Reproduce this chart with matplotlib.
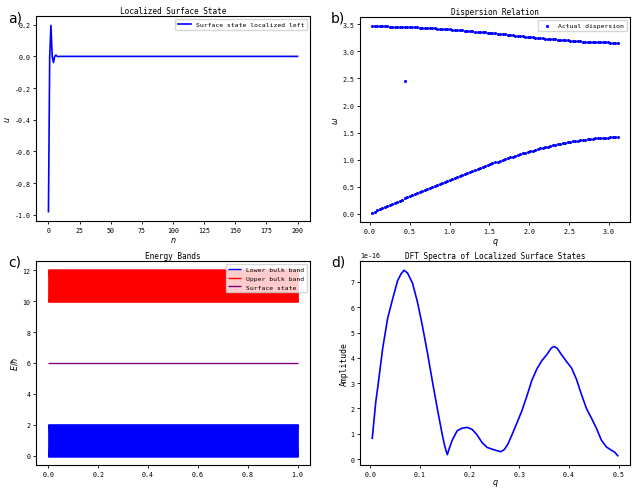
import numpy as np
import matplotlib
matplotlib.use('Agg')
import matplotlib.pyplot as plt

plt.rcParams['font.family'] = ['DejaVu Sans Mono', 'DejaVu Sans']
plt.rcParams['axes.unicode_minus'] = False
plt.rcParams['xtick.labelsize'] = 4.8
plt.rcParams['ytick.labelsize'] = 4.8
plt.rcParams['xtick.major.size'] = 2
plt.rcParams['ytick.major.size'] = 2
plt.rcParams['xtick.major.pad'] = 2
plt.rcParams['ytick.major.pad'] = 2
plt.rcParams['axes.linewidth'] = 0.8
plt.rcParams['axes.titlesize'] = 5.6
plt.rcParams['axes.titlepad'] = 2
plt.rcParams['axes.labelsize'] = 5.8
plt.rcParams['axes.labelpad'] = 1.5
plt.rcParams['legend.fontsize'] = 4.6

# surface state displacement along the chain (decays within a few sites)
site_n = [0, 1, 2, 3, 4, 5, 6, 7, 8, 9, 10, 200]
site_u = [-0.98, 0.0, 0.196, 0.0, -0.039, 0.0, 0.008, 0.0, -0.0016, 0.0, 0.0, 0.0]

# wavenumbers of the 99 allowed modes
q_vals = [0.031, 0.063, 0.094, 0.126, 0.157, 0.188, 0.220, 0.251, 0.283, 0.314,
          0.346, 0.377, 0.408, 0.440, 0.471, 0.503, 0.534, 0.565, 0.597, 0.628,
          0.660, 0.691, 0.723, 0.754, 0.785, 0.817, 0.848, 0.880, 0.911, 0.942,
          0.974, 1.005, 1.037, 1.068, 1.100, 1.131, 1.162, 1.194, 1.225, 1.257,
          1.288, 1.319, 1.351, 1.382, 1.414, 1.445, 1.477, 1.508, 1.539, 1.571,
          1.602, 1.634, 1.665, 1.696, 1.728, 1.759, 1.791, 1.822, 1.853, 1.885,
          1.916, 1.948, 1.979, 2.011, 2.042, 2.073, 2.105, 2.136, 2.168, 2.199,
          2.231, 2.262, 2.293, 2.325, 2.356, 2.388, 2.419, 2.450, 2.482, 2.513,
          2.545, 2.576, 2.608, 2.639, 2.670, 2.702, 2.733, 2.765, 2.796, 2.827,
          2.859, 2.890, 2.922, 2.953, 2.985, 3.016, 3.047, 3.079, 3.110]

# acoustic branch
w_lower = [0.020, 0.040, 0.061, 0.081, 0.101, 0.122, 0.142, 0.162, 0.182, 0.203,
           0.222, 0.242, 0.263, 0.283, 0.303, 0.322, 0.342, 0.362, 0.382, 0.402,
           0.421, 0.441, 0.460, 0.480, 0.499, 0.519, 0.538, 0.557, 0.576, 0.595,
           0.614, 0.633, 0.651, 0.670, 0.688, 0.707, 0.725, 0.743, 0.761, 0.779,
           0.796, 0.814, 0.831, 0.849, 0.866, 0.883, 0.900, 0.916, 0.933, 0.949,
           0.965, 0.981, 0.997, 1.013, 1.028, 1.043, 1.058, 1.073, 1.087, 1.102,
           1.116, 1.129, 1.143, 1.156, 1.169, 1.182, 1.195, 1.207, 1.219, 1.231,
           1.242, 1.253, 1.264, 1.274, 1.284, 1.294, 1.303, 1.313, 1.321, 1.330,
           1.338, 1.345, 1.353, 1.360, 1.366, 1.372, 1.378, 1.383, 1.388, 1.393,
           1.397, 1.400, 1.404, 1.406, 1.409, 1.411, 1.412, 1.413, 1.414]

# optical branch
w_upper = [3.464, 3.464, 3.464, 3.463, 3.463, 3.462, 3.461, 3.460, 3.459, 3.458,
           3.457, 3.456, 3.454, 3.453, 3.451, 3.449, 3.447, 3.445, 3.443, 3.441,
           3.438, 3.436, 3.433, 3.431, 3.428, 3.425, 3.422, 3.419, 3.416, 3.413,
           3.409, 3.406, 3.402, 3.399, 3.395, 3.391, 3.387, 3.384, 3.380, 3.375,
           3.371, 3.367, 3.363, 3.359, 3.354, 3.350, 3.345, 3.341, 3.336, 3.332,
           3.327, 3.322, 3.318, 3.313, 3.308, 3.303, 3.299, 3.294, 3.289, 3.284,
           3.280, 3.275, 3.270, 3.265, 3.261, 3.256, 3.252, 3.247, 3.243, 3.238,
           3.234, 3.230, 3.225, 3.221, 3.217, 3.213, 3.210, 3.206, 3.202, 3.199,
           3.195, 3.192, 3.189, 3.186, 3.183, 3.181, 3.178, 3.176, 3.174, 3.172,
           3.170, 3.168, 3.167, 3.166, 3.165, 3.164, 3.163, 3.163, 3.162]

# in-gap surface mode
q_surface = 0.440
w_surface = 2.449

# DFT amplitude of the surface states (units of 1e-16)
dft_q = [0.004, 0.011, 0.015, 0.025, 0.035, 0.045, 0.055, 0.062, 0.068, 0.075,
         0.085, 0.095, 0.105, 0.115, 0.125, 0.135, 0.145, 0.150, 0.155, 0.160,
         0.165, 0.175, 0.185, 0.195, 0.205, 0.215, 0.225, 0.235, 0.245, 0.255,
         0.263, 0.270, 0.277, 0.285, 0.295, 0.305, 0.315, 0.325, 0.335, 0.345,
         0.355, 0.364, 0.370, 0.376, 0.385, 0.395, 0.405, 0.415, 0.425, 0.435,
         0.445, 0.455, 0.465, 0.475, 0.485, 0.492, 0.498]
dft_amp = [0.82, 2.25, 2.83, 4.38, 5.57, 6.33, 7.05, 7.32, 7.46, 7.35,
           6.95, 6.20, 5.25, 4.20, 3.07, 1.98, 0.95, 0.50, 0.17, 0.48,
           0.75, 1.12, 1.22, 1.25, 1.17, 0.95, 0.65, 0.46, 0.39, 0.33,
           0.29, 0.38, 0.59, 0.95, 1.42, 1.90, 2.48, 3.10, 3.55, 3.88,
           4.12, 4.38, 4.45, 4.38, 4.12, 3.85, 3.60, 3.15, 2.55, 2.00,
           1.62, 1.22, 0.75, 0.48, 0.35, 0.27, 0.13]

W, H = 632, 489
fig = plt.figure(figsize=(W / 100, H / 100), dpi=100)


def px_axes(left, top, right, bottom):
    return fig.add_axes([left / W, 1 - bottom / H, (right - left) / W, (bottom - top) / H])


ax_a = px_axes(36, 17, 310, 222)
ax_b = px_axes(360, 18, 630, 223)
ax_c = px_axes(36, 262, 310, 466)
ax_d = px_axes(360, 262, 630, 466)

# a) localized surface state
ax_a.plot(site_n, site_u, color='blue', lw=1.2, label='Surface state localized left')
ax_a.set_title('Localized Surface State')
ax_a.set_xlabel('$n$')
ax_a.set_ylabel('$u$')
ax_a.set_xticks([0, 25, 50, 75, 100, 125, 150, 175, 200])
ax_a.set_yticks([-1.0, -0.8, -0.6, -0.4, -0.2, 0.0, 0.2])
ax_a.legend(loc='upper right')

# b) dispersion relation
q_all = np.concatenate([q_vals, q_vals, [q_surface]])
w_all = np.concatenate([w_lower, w_upper, [w_surface]])
ax_b.scatter(q_all, w_all, s=5, color='blue', linewidths=0, label='Actual dispersion')
ax_b.set_title('Dispersion Relation')
ax_b.set_xlabel('$q$')
ax_b.set_ylabel('$\\omega$')
ax_b.set_xticks([0.0, 0.5, 1.0, 1.5, 2.0, 2.5, 3.0])
ax_b.set_yticks([0.0, 0.5, 1.0, 1.5, 2.0, 2.5, 3.0, 3.5])
ax_b.legend(loc='upper right')

# c) energy bands drawn as horizontal levels
E_lower = np.array(w_lower) ** 2
E_upper = np.array(w_upper) ** 2
E_surface = w_surface ** 2
ax_c.hlines(E_lower, 0, 1, colors='blue', lw=1.0, label='Lower bulk band')
ax_c.hlines(E_upper, 0, 1, colors='red', lw=1.0, label='Upper bulk band')
ax_c.hlines([E_surface], 0, 1, colors='purple', lw=1.0, label='Surface state')
ax_c.set_title('Energy Bands')
ax_c.set_ylabel('$E/\\hbar$')
ax_c.set_xticks([0.0, 0.2, 0.4, 0.6, 0.8, 1.0])
ax_c.set_yticks([0, 2, 4, 6, 8, 10, 12])
ax_c.legend(loc='upper right')

# d) DFT spectra
ax_d.plot(dft_q, np.array(dft_amp) * 1e-16, color='blue', lw=1.2)
ax_d.set_title('DFT Spectra of Localized Surface States')
ax_d.set_xlabel('$q$', labelpad=0.5)
ax_d.set_ylabel('Amplitude')
ax_d.set_xticks([0.0, 0.1, 0.2, 0.3, 0.4, 0.5])
ax_d.set_yticks(np.arange(8) * 1e-16)
ax_d.yaxis.get_offset_text().set_fontsize(4.8)

for ax in (ax_a, ax_b, ax_c, ax_d):
    ax.tick_params(width=0.6)

for label, x, y in [('a)', 8, 22), ('b)', 331, 22), ('c)', 8, 267), ('d)', 331, 267)]:
    fig.text(x / W, 1 - y / H, label, fontsize=10, family='DejaVu Sans')

fig.savefig('out.png', dpi=100)
